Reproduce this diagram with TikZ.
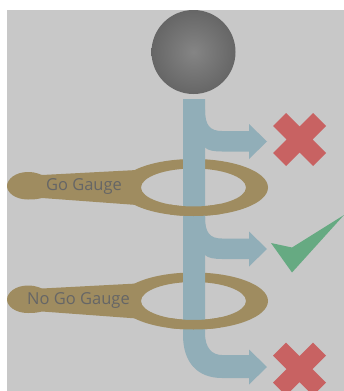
\documentclass[tikz,border=0pt]{standalone}
\usepackage{fontspec}
\setmainfont{Open Sans}
\definecolor{panelgray}{HTML}{C8C8C8}
\definecolor{stemblue}{HTML}{91AEB8}
\definecolor{gaugegold}{HTML}{9F8C60}
\definecolor{failred}{HTML}{C86262}
\definecolor{passgreen}{HTML}{66AA82}
\definecolor{labelgray}{HTML}{666666}
\tikzset{
  stemfill/.style={fill=stemblue},
  gaugefill/.style={fill=gaugegold, even odd rule},
  gaugelabel/.style={text=labelgray, font=\fontsize{16.5}{18}\selectfont, inner sep=0pt},
  failfill/.style={fill=failred}
}
% ring and handle of one gauge, #1 = height of the ring centre
\newcommand{\gaugering}[1]{
  \fill[gaugefill] (193.5,#1) ellipse (74.5 and 28.5) (193.5,#1) ellipse (52.5 and 19);
}
\newcommand{\gaugehandle}[1]{
  \fill[gaugefill] (137,#1-17.5) -- (42,#1-12.5) .. controls (36,#1-15) and (32,#1-15.5) .. (28,#1-15.5)
    .. controls (15,#1-15.5) and (7,#1-8) .. (7,#1-1.5) .. controls (7,#1+5) and (15,#1+12) .. (28,#1+12)
    .. controls (32,#1+12) and (36,#1+12) .. (42,#1+10.5) -- (137,#1+17.5) -- cycle;
}
% side branch of the stem, #1 = height of the arrow tip
\newcommand{\sidearrow}[1]{
  \fill[stemfill] (205,#1-32) .. controls (205,#1-16) and (210,#1-10.5) .. (222,#1-10.5)
    -- (249,#1-10.5) -- (249,#1-17.5) -- (267,#1) -- (249,#1+17.5) -- (249,#1+10) -- (222,#1+10)
    .. controls (214,#1+10) and (208,#1+9) .. (205,#1+6) -- cycle;
}
% red cross, #1 = height of its centre
\newcommand{\failcross}[1]{
  \fill[failfill] (299.5,#1) ++(-26.5,-13.5) -- ++(13,-13) -- ++(13.5,13.5) -- ++(13.5,-13.5) -- ++(13,13)
    -- ++(-13.5,13.5) -- ++(13.5,13.5) -- ++(-13,13) -- ++(-13.5,-13.5) -- ++(-13.5,13.5) -- ++(-13,-13)
    -- ++(13.5,-13.5) -- cycle;
}

\begin{document}
\begin{tikzpicture}[x=1pt, y=-1pt]
  \useasboundingbox (0,0) rectangle (344,391);
  \clip (0,0) rectangle (344,391);
  \fill[panelgray] (7,9.5) rectangle (344,391);

  % Ball
  \shade[inner color=black!48, outer color=black!60] (193.5,52) circle (42);

  % Gauges, whole, behind the stem
  \foreach \gy in {187.5,301} {
    \gaugehandle{\gy}
    \gaugering{\gy}
  }

  % Stem with the lowest arrow
  \fill[stemfill] (183,99) -- (183,335) .. controls (183,362) and (197,378) .. (222,378)
    -- (249,378) -- (249,384.5) -- (267,367) -- (249,349.5) -- (249,355) -- (222,355)
    .. controls (212,355) and (205,348) .. (205,333) -- (205,99) -- cycle;
  \sidearrow{141.5}
  \sidearrow{249}

  % Lower half of each ring passes in front of the stem
  \foreach \gy in {187.5,301} {
    \begin{scope}
      \clip (170,\gy) rectangle (220,\gy+35);
      \gaugering{\gy}
    \end{scope}
  }

  % Gauge labels
  \node[gaugelabel] (gogauge) at (84,187) {Go Gauge};
  \node[gaugelabel] (nogogauge) at (78.5,301) {No Go Gauge};

  % Results
  \failcross{139.5}
  \failcross{369}
  \fill[passgreen] (271,243) -- (292,247.5) -- (344,215) -- (292,272.5) -- cycle;
\end{tikzpicture}
\end{document}
